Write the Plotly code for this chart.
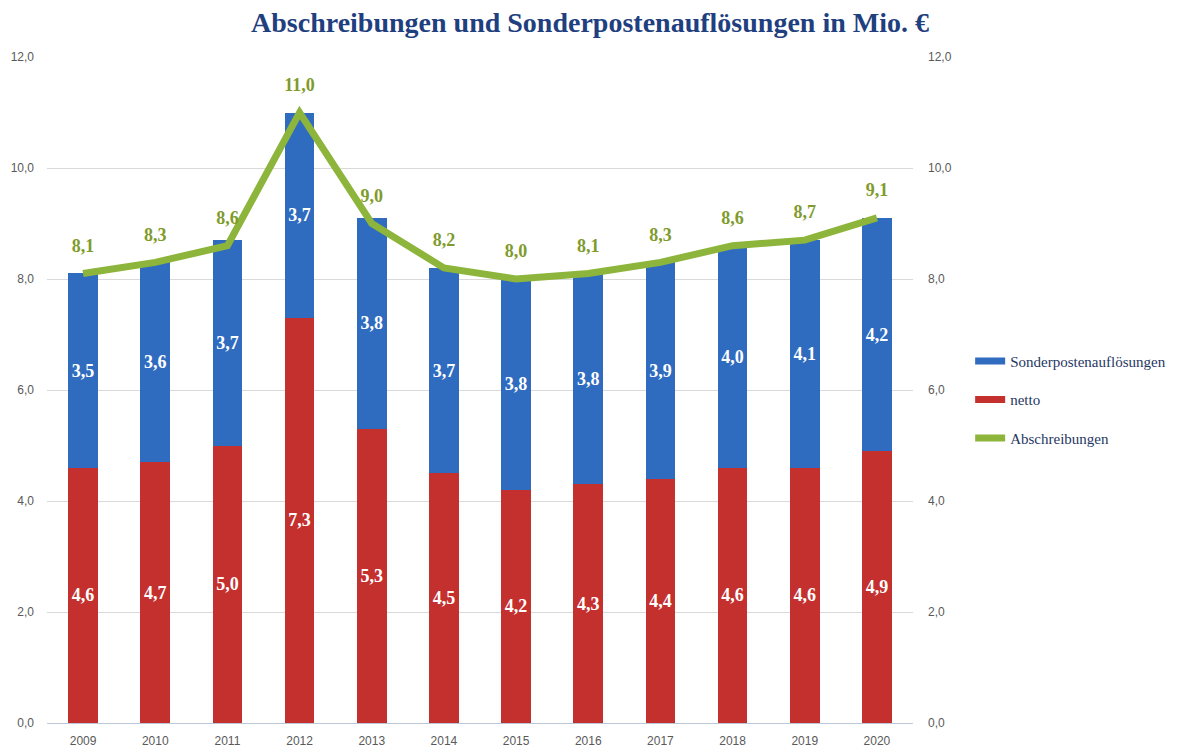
import plotly.graph_objects as go

years = ["2009", "2010", "2011", "2012", "2013", "2014", "2015", "2016", "2017", "2018", "2019", "2020"]
netto = [4.6, 4.7, 5.0, 7.3, 5.3, 4.5, 4.2, 4.3, 4.4, 4.6, 4.6, 4.9]
sonderposten = [3.5, 3.6, 3.7, 3.7, 3.8, 3.7, 3.8, 3.8, 3.9, 4.0, 4.1, 4.2]
abschreibungen = [8.1, 8.3, 8.6, 11.0, 9.0, 8.2, 8.0, 8.1, 8.3, 8.6, 8.7, 9.1]
tick_vals = [0, 2, 4, 6, 8, 10, 12]
tick_text = ["0,0", "2,0", "4,0", "6,0", "8,0", "10,0", "12,0"]

BLUE = "#2F6BBF"
RED = "#C4302E"
GREEN = "#8DB53C"
LABEL_GREEN = "#7E9B2C"
SERIF = "Liberation Serif"
SANS = "Liberation Sans"

# page body has an 8px margin; figure is sized/positioned to compensate
W, H = 1171, 743

fig = go.Figure()

fig.add_trace(go.Bar(
    x=years, y=netto, name="netto", marker_color=RED, marker_line_width=0,
    text=[f"{v:.1f}".replace(".", ",") for v in netto],
    textposition="inside", insidetextanchor="middle", constraintext="none",
    textangle=0,
    textfont=dict(family=SERIF, size=18, color="white", weight="bold"),
    showlegend=False, width=0.41,
))
fig.add_trace(go.Bar(
    x=years, y=sonderposten, name="Sonderpostenauflösungen", marker_color=BLUE, marker_line_width=0,
    text=[f"{v:.1f}".replace(".", ",") for v in sonderposten],
    textposition="inside", insidetextanchor="middle", constraintext="none",
    textangle=0,
    textfont=dict(family=SERIF, size=18, color="white", weight="bold"),
    showlegend=False, width=0.41,
))
fig.add_trace(go.Scatter(
    x=years, y=abschreibungen, name="Abschreibungen", mode="lines+markers+text",
    line=dict(color=GREEN, width=7),
    marker=dict(size=26, color="rgba(0,0,0,0)"),
    text=[f"{v:.1f}".replace(".", ",") for v in abschreibungen],
    textposition="top center",
    textfont=dict(family=SERIF, size=18, color=LABEL_GREEN, weight="bold"),
    showlegend=False, yaxis="y2", cliponaxis=False,
))

# legend entries (line-style swatches as in the reference)
for name, color, rank in [("Sonderpostenauflösungen", BLUE, 1), ("netto", RED, 2), ("Abschreibungen", GREEN, 3)]:
    fig.add_trace(go.Scatter(
        x=[None], y=[None], mode="lines", name=name,
        line=dict(color=color, width=7), legendrank=rank, legendgroup=name,
        showlegend=True,
    ))

fig.update_layout(
    width=W, height=H,
    barmode="stack",
    plot_bgcolor="white", paper_bgcolor="white",
    margin=dict(l=39, r=266, t=49, b=28, autoexpand=False),
    title=dict(
        text="Abschreibungen und Sonderpostenauflösungen in Mio. €",
        x=(590 - 8) / W, xref="container", xanchor="center",
        y=1 - 14 / H, yref="container", yanchor="middle",
        font=dict(family=SERIF, size=28, color="#1F3F7F", weight="bold"),
    ),
    xaxis=dict(
        type="category", range=[-0.5, len(years) - 0.5], autorange=False,
        showgrid=False, showline=False, ticks="", ticklabelstandoff=9,
        automargin=False,
        tickfont=dict(family=SANS, size=12, color="#595959"),
    ),
    yaxis=dict(
        range=[0, 12], tickvals=tick_vals, ticktext=tick_text,
        showgrid=True, gridcolor="#D9D9D9", gridwidth=1,
        zeroline=True, zerolinecolor="#BCC8D8", zerolinewidth=1,
        showline=False, ticks="", ticklabelstandoff=12, automargin=False,
        tickfont=dict(family=SANS, size=12, color="#595959"),
    ),
    yaxis2=dict(
        range=[0, 12], tickvals=tick_vals, ticktext=tick_text,
        overlaying="y", side="right", showgrid=False, zeroline=False,
        showline=False, ticks="", ticklabelstandoff=14, automargin=False,
        tickfont=dict(family=SANS, size=12, color="#595959"),
    ),
    legend=dict(
        x=1.066, y=0.568, xanchor="left", yanchor="top",
        font=dict(family=SERIF, size=15, color="#1F3864"),
        tracegroupgap=16, itemwidth=30, bgcolor="rgba(0,0,0,0)",
    ),
    bargap=0.59,
)

fig.write_html("out.html")
